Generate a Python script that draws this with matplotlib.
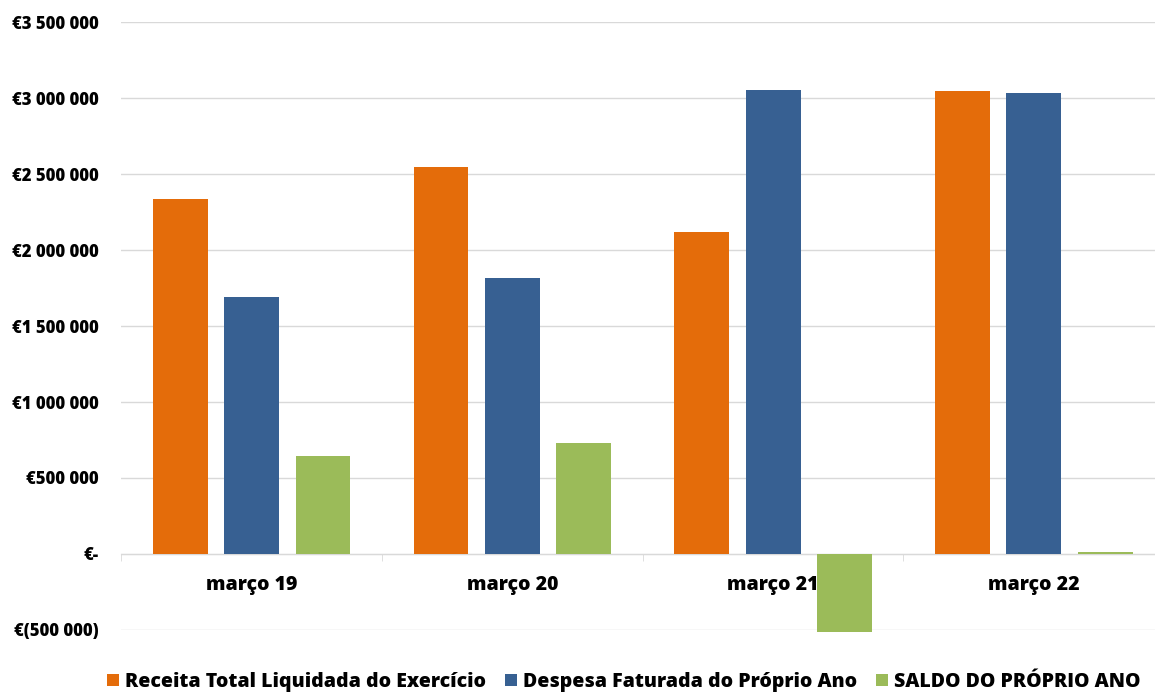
import matplotlib.pyplot as plt
import matplotlib.ticker as mticker
import numpy as np

categories = ["março 19", "março 20", "março 21", "março 22"]
receita = [2335000, 2546000, 2118000, 3046000]
despesa = [1691000, 1816000, 3053000, 3033000]
saldo = [645000, 730000, -513000, 13000]

series = [
    ("Receita Total Liquidada do Exercício", receita, "#E46C0A"),
    ("Despesa Faturada do Próprio Ano", despesa, "#376092"),
    ("SALDO DO PRÓPRIO ANO", saldo, "#9BBB59"),
]

plt.rcParams["font.family"] = ["Open Sans", "DejaVu Sans"]
plt.rcParams["font.weight"] = "bold"


def euro(v, pos=None):
    if v == 0:
        return "€-"
    s = f"{abs(v):,.0f}".replace(",", " ")
    return f"€({s})" if v < 0 else f"€{s}"


fig = plt.figure(figsize=(11.55, 6.93), dpi=100)
ax = fig.add_axes([0.105, 0.091, 0.903, 0.877])

x = np.arange(len(categories))
width = 0.21
step = 0.274
for i, (name, vals, color) in enumerate(series):
    ax.bar(x + (i - 1) * step, vals, width, color=color, label=name,
           zorder=3, clip_on=False)

ax.set_ylim(-500000, 3500000)
ax.set_xlim(-0.5, len(categories) - 0.5)
ax.yaxis.set_major_locator(mticker.MultipleLocator(500000))
ax.yaxis.set_major_formatter(mticker.FuncFormatter(euro))
ax.grid(axis="y", color="#D9D9D9", linewidth=1)
ax.set_axisbelow(True)

for s in ["top", "right", "left"]:
    ax.spines[s].set_visible(False)
ax.spines["bottom"].set_position(("data", 0))
ax.spines["bottom"].set_color("#D9D9D9")

ax.set_xticks(x)
ax.set_xticklabels(categories, fontsize=14, fontweight="heavy")
ax.set_xticks(np.arange(len(categories)) - 0.5, minor=True)
ax.tick_params(axis="x", which="major", length=0, pad=15)
ax.tick_params(axis="x", which="minor", length=5, color="#D9D9D9",
               direction="out")
ax.tick_params(axis="y", length=0, pad=16, labelsize=12)
for lab in ax.get_yticklabels():
    lab.set_fontweight("heavy")

leg = fig.legend(loc="center", bbox_to_anchor=(0.54, 0.016), ncol=3,
                 frameon=False, fontsize=14, handlelength=0.6,
                 handleheight=0.6, handletextpad=0.3, columnspacing=1.0)
for t in leg.get_texts():
    t.set_fontweight("heavy")

fig.savefig("out.png", dpi=100)
